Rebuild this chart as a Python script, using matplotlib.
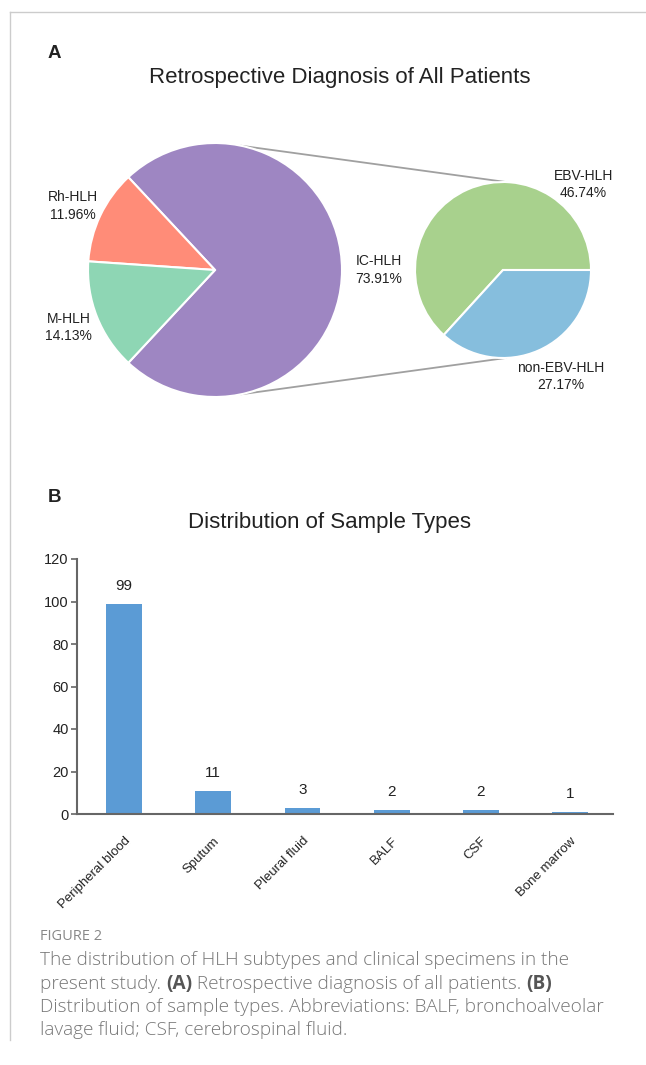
import matplotlib
matplotlib.use("Agg")
import matplotlib.pyplot as plt
from matplotlib.lines import Line2D
import numpy as np

# panel A data
main_labels = ["IC-HLH", "Rh-HLH", "M-HLH"]
main_pcts = [73.91, 11.96, 14.13]
main_colors = ["#9e86c2", "#ff8c78", "#8ed6b4"]

sub_labels = ["EBV-HLH", "non-EBV-HLH"]
sub_pcts = [46.74, 27.17]
sub_colors = ["#a8d18d", "#86bedd"]

# panel B data
sample_types = ["Peripheral blood", "Sputum", "Pleural fluid", "BALF", "CSF", "Bone marrow"]
sample_counts = [99, 11, 3, 2, 2, 1]
bar_color = "#5b9bd5"

plt.rcParams['font.family'] = ['Liberation Sans', 'DejaVu Sans']
TXT = "#222222"

W, H = 646, 1065
fig = plt.figure(figsize=(W / 100, H / 100), dpi=100)


def fx(px):
    return px / W


def fy(py):
    return 1 - py / H


# page border
fig.add_artist(Line2D([fx(9.5), fx(646)], [fy(11.5), fy(11.5)], color="#cccccc", lw=1))
fig.add_artist(Line2D([fx(9.5), fx(9.5)], [fy(11.5), fy(1040)], color="#cccccc", lw=1))

# ---------------- panel A ----------------
scale = 127.0
cx, cy = 215, 270
top, bot = 120, 420
axA = fig.add_axes([0, fy(bot), 1, (bot - top) / H])
ic_frac = main_pcts[0] / 100.0
wedges, _ = axA.pie(main_pcts, colors=main_colors, startangle=-ic_frac * 180,
                    radius=1.0, center=(0, 0),
                    wedgeprops=dict(edgecolor="white", linewidth=1.5))
sub_r = 88 / scale
sub_cx = (503 - cx) / scale
wedges2, _ = axA.pie(sub_pcts, colors=sub_colors, startangle=0,
                     radius=sub_r, center=(sub_cx, 0),
                     wedgeprops=dict(edgecolor="white", linewidth=1.5))
axA.set_xlim(-cx / scale, (W - cx) / scale)
axA.set_ylim(-(bot - cy) / scale, (cy - top) / scale)
axA.set_aspect("auto")
axA.axis("off")

# main pie labels (radius, angle shift in degrees)
label_pos = {"IC-HLH": (1.29, 0), "Rh-HLH": (1.23, 1.2), "M-HLH": (1.24, 0)}
for w, name, p in zip(wedges, main_labels, main_pcts):
    r, da = label_pos[name]
    ang = np.deg2rad((w.theta1 + w.theta2) / 2 + da)
    axA.text(r * np.cos(ang), r * np.sin(ang), f"{name}\n{p:.2f}%",
             ha="center", va="center", fontsize=10, color=TXT, linespacing=1.3)

# sub pie labels
sub_label_pos = [(0.91, 0.97), (0.66, -1.21)]
for (lx, ly), name, p in zip(sub_label_pos, sub_labels, sub_pcts):
    axA.text(sub_cx + lx * sub_r, ly * sub_r, f"{name}\n{p:.2f}%",
             ha="center", va="center", fontsize=10, color=TXT, linespacing=1.3)

# connecting lines
for a1, a2 in [(78, 88), (-78, -88)]:
    x1, y1 = np.cos(np.deg2rad(a1)), np.sin(np.deg2rad(a1))
    x2 = sub_cx + sub_r * np.cos(np.deg2rad(a2))
    y2 = sub_r * np.sin(np.deg2rad(a2))
    axA.plot([x1, x2], [y1, y2], color="#a0a0a0", lw=1.3, zorder=0)

fig.text(fx(48), fy(53), "A", fontsize=13.5, fontweight="bold", color=TXT, ha="left", va="center")
fig.text(fx(340), fy(77), "Retrospective Diagnosis of All Patients", fontsize=16,
         color=TXT, ha="center", va="center")

# ---------------- panel B ----------------
axB = fig.add_axes([fx(77), fy(814), (613 - 77) / W, (814 - 559) / H])
x = np.arange(len(sample_types))
bars = axB.bar(x, sample_counts, width=0.4, color=bar_color, linewidth=0)
for xi, v in zip(x, sample_counts):
    axB.annotate(str(v), (xi, v), xytext=(0, 8), textcoords="offset points",
                 ha="center", va="bottom", fontsize=11, color=TXT)
axB.set_ylim(0, 120)
axB.set_xlim(-0.527, 5.48)
axB.set_yticks(range(0, 121, 20))
axB.set_xticks(x)
axB.set_xticklabels(sample_types, rotation=45, ha="right", rotation_mode="anchor")
for s in ["top", "right"]:
    axB.spines[s].set_visible(False)
for s in ["left", "bottom"]:
    axB.spines[s].set_color("#666666")
    axB.spines[s].set_linewidth(1.5)
axB.tick_params(axis="y", length=4, width=1.2, color="#666666", labelsize=10.5, labelcolor=TXT, pad=2)
axB.tick_params(axis="x", length=0, labelsize=9.5, labelcolor=TXT, pad=15)

fig.text(fx(48), fy(497), "B", fontsize=13.5, fontweight="bold", color=TXT, ha="left", va="center")
fig.text(fx(330), fy(523), "Distribution of Sample Types", fontsize=16,
         color=TXT, ha="center", va="center")

# ---------------- caption ----------------
CAP = "#777777"
cap_font = ["Open Sans", "DejaVu Sans"]
fig.text(fx(40), fy(937), "FIGURE 2", fontsize=10.5, color="#888888", family=cap_font,
         ha="left", va="center")

caption_lines = [
    [("The distribution of HLH subtypes and clinical specimens in the", "light")],
    [("present study. ", "light"), ("(A)", "bold"),
     (" Retrospective diagnosis of all patients. ", "light"), ("(B)", "bold")],
    [("Distribution of sample types. Abbreviations: BALF, bronchoalveolar", "light")],
    [("lavage fluid; CSF, cerebrospinal fluid.", "light")],
]
caption_y = [960, 984, 1007, 1030]
renderer = fig.canvas.get_renderer()
for segs, py in zip(caption_lines, caption_y):
    xpos = 40
    for s, wt in segs:
        t = fig.text(fx(xpos), fy(py), s, fontsize=13.7, color=CAP if wt != "bold" else "#555555",
                     family=cap_font, fontweight=wt, ha="left", va="center")
        bb = t.get_window_extent(renderer=renderer)
        xpos += bb.width

fig.savefig("out.png", dpi=100)
